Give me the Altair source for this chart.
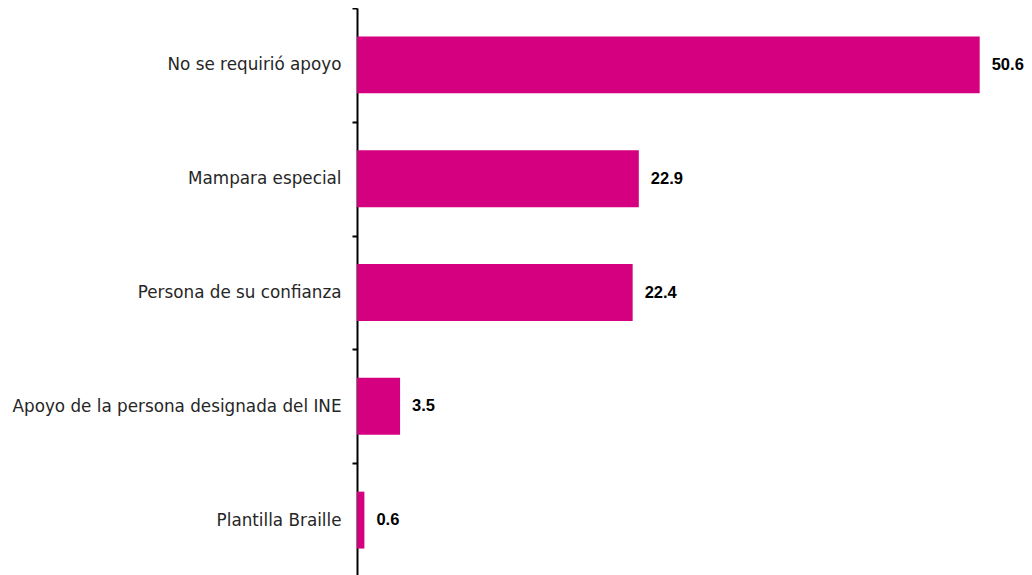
import altair as alt
import pandas as pd

categories = [
    "No se requirió apoyo",
    "Mampara especial",
    "Persona de su confianza",
    "Apoyo de la persona designada del INE",
    "Plantilla Braille",
]
values = [50.6, 22.9, 22.4, 3.5, 0.6]
labels = ["50.6", "22.9", "22.4", "3.5", "0.6"]

df = pd.DataFrame({"cat": categories, "val": values, "lab": labels})

y_scale = alt.Scale(paddingInner=0, paddingOuter=0)
y_enc = alt.Y(
    "cat:N",
    sort=categories,
    title=None,
    scale=y_scale,
    axis=alt.Axis(
        domainColor="black",
        domainWidth=2,
        tickColor="black",
        tickWidth=2,
        tickSize=5,
        tickBand="extent",
        labelPadding=11,
        labelFont="DejaVu Sans",
        labelFontSize=16.8,
        labelColor="#262626",
        labelLimit=400,
        grid=False,
    ),
)
x_enc = alt.X("val:Q", scale=alt.Scale(domain=[0, 54.2], nice=False), axis=None)

bars = alt.Chart(df).mark_bar(color="#D5007F", height={"band": 0.5}).encode(x=x_enc, y=y_enc)
text = alt.Chart(df).mark_text(
    align="left", dx=12, font="Liberation Sans", fontSize=16.5, fontWeight="bold", color="black"
).encode(x=x_enc, y=alt.Y("cat:N", sort=categories, scale=y_scale), text="lab:N")

chart = (
    (bars + text)
    .properties(
        width=667,
        height=569,
        autosize=alt.AutoSizeParams(type="none"),
        padding={"left": 349, "top": 0, "right": 0, "bottom": 0},
    )
    .configure_view(stroke=None)
)

chart.save("out.html", embed_options={"renderer": "svg", "actions": False})
